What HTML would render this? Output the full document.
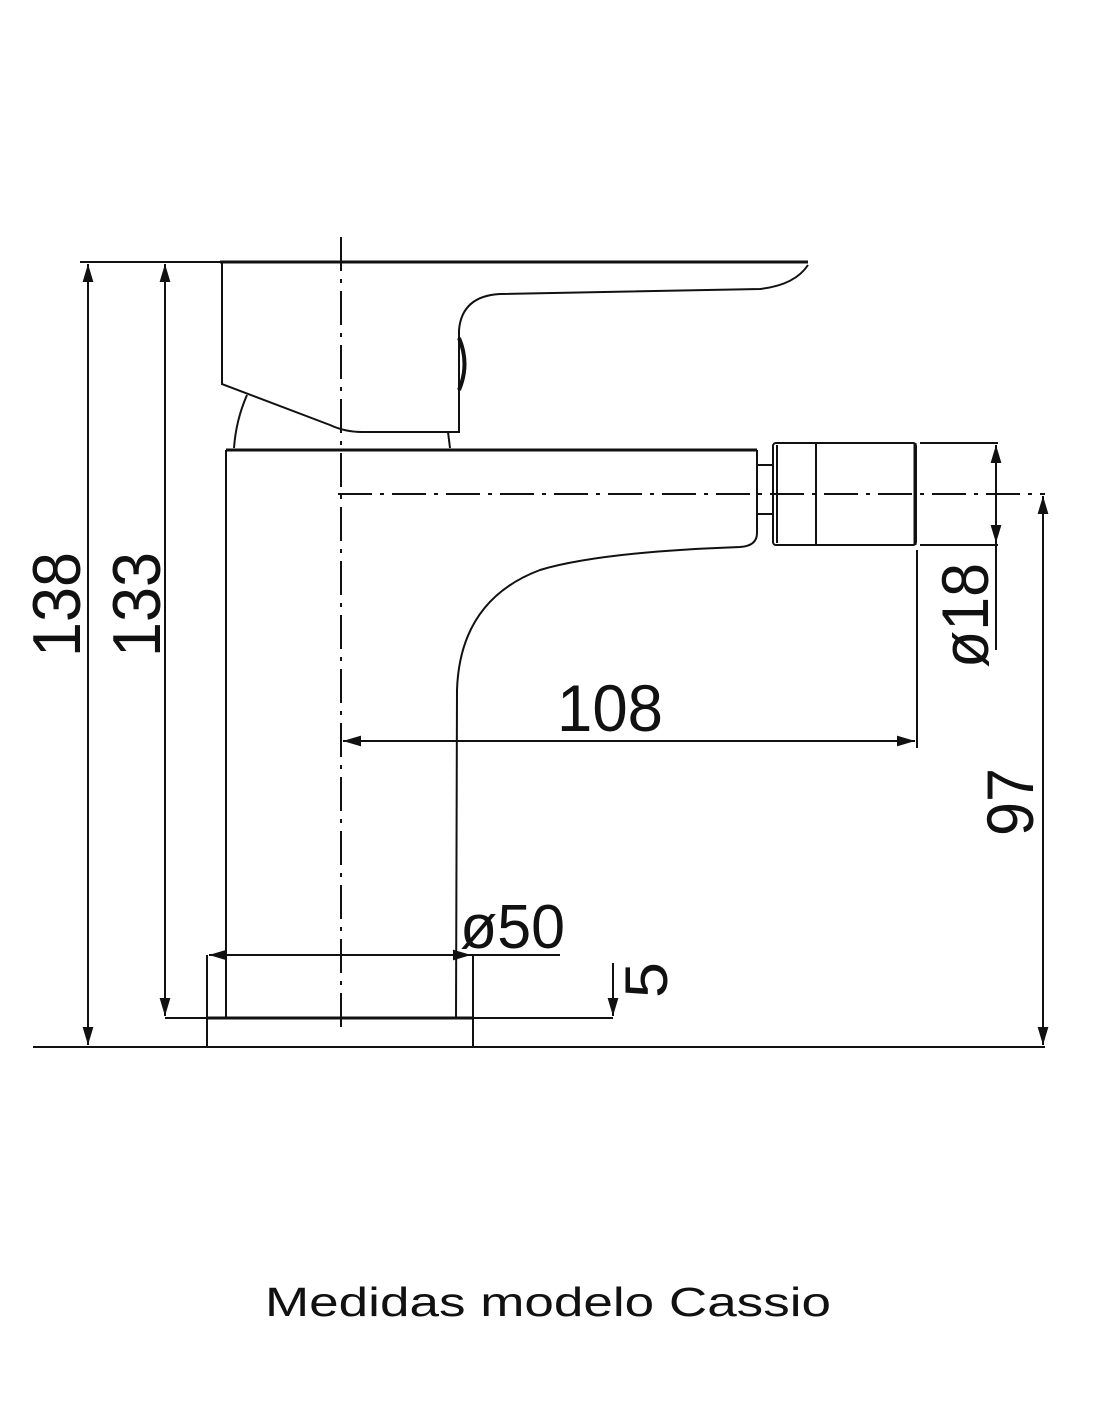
<!DOCTYPE html>
<html><head><meta charset="utf-8"><style>
html,body{margin:0;padding:0;background:#fff}
svg{display:block}
.t{font-family:"Liberation Sans",sans-serif;fill:#111}
</style></head><body>
<svg width="1100" height="1422" viewBox="0 0 1100 1422" xmlns="http://www.w3.org/2000/svg">
<defs>
<marker id="a" viewBox="0 0 10 10" refX="10" refY="5" markerWidth="18" markerHeight="18" markerUnits="userSpaceOnUse" orient="auto-start-reverse"><path d="M0,2 L10,5 L0,8 Z" fill="#111"/></marker>
</defs>
<g fill="none" stroke="#111" stroke-width="2">
<line x1="341" y1="237" x2="341" y2="1030" stroke-dasharray="34,8,4,8"/>
<line x1="338" y1="494" x2="1045" y2="494" stroke-dasharray="34,8,4,8"/>
<line x1="220" y1="262" x2="808" y2="262" stroke-width="3"/>
<path d="M222,262 L222,384 L330,425 Q345,432 362,432 L459,432 L459,330 Q462,296 500,294 L760,289 Q795,285 808,265"/>
<path d="M459,338 Q470,364 459,390" stroke-width="4"/>
<path d="M234,448 Q236,420 247,395"/>
<path d="M448,432 L450,448"/>
<line x1="226" y1="450" x2="757" y2="450" stroke-width="3"/>
<path d="M226,450 L226,1018"/>
<path d="M757,450 L757,533 Q757,546 740,547 Q600,552 540,570 Q460,600 457,690 L456,1018"/>
<path d="M757,465 L772,465 M757,514 L772,514"/>
<rect x="773" y="443" width="143" height="102" rx="3"/>
<line x1="777" y1="445" x2="777" y2="543"/>
<line x1="816" y1="443" x2="816" y2="545"/>
<line x1="915" y1="443" x2="915" y2="545" stroke-width="3"/>
<line x1="920" y1="443" x2="998" y2="443"/>
<line x1="920" y1="545" x2="998" y2="545"/>
<line x1="996" y1="445" x2="996" y2="650" />
<line x1="996" y1="494" x2="996" y2="445" marker-end="url(#a)"/>
<line x1="996" y1="494" x2="996" y2="543" marker-end="url(#a)"/>
<line x1="1043" y1="770" x2="1043" y2="496" marker-end="url(#a)"/>
<line x1="1043" y1="770" x2="1043" y2="1045" marker-end="url(#a)"/>
<line x1="917" y1="550" x2="917" y2="748"/>
<line x1="620" y1="741" x2="343" y2="741" marker-end="url(#a)"/>
<line x1="620" y1="741" x2="915" y2="741" marker-end="url(#a)"/>
<line x1="80" y1="262" x2="222" y2="262"/>
<line x1="88" y1="650" x2="88" y2="264" marker-end="url(#a)"/>
<line x1="88" y1="650" x2="88" y2="1045" marker-end="url(#a)"/>
<line x1="165" y1="650" x2="165" y2="264" marker-end="url(#a)"/>
<line x1="165" y1="650" x2="165" y2="1016" marker-end="url(#a)"/>
<line x1="165" y1="1018" x2="613" y2="1018"/>
<line x1="207" y1="1018" x2="473" y2="1018" stroke-width="3"/>
<line x1="207" y1="955" x2="207" y2="1047"/>
<line x1="473" y1="955" x2="473" y2="1047"/>
<line x1="33" y1="1047" x2="1045" y2="1047"/>
<line x1="613" y1="963" x2="613" y2="1016" marker-end="url(#a)"/>
<line x1="230" y1="955" x2="560" y2="955"/>
<line x1="300" y1="955" x2="209" y2="955" marker-end="url(#a)"/>
<line x1="300" y1="955" x2="471" y2="955" marker-end="url(#a)"/>
</g>
<g class="t">
<text transform="translate(80,657) rotate(-90)" font-size="68" textLength="105" lengthAdjust="spacingAndGlyphs">138</text>
<text transform="translate(160,657) rotate(-90)" font-size="68" textLength="105" lengthAdjust="spacingAndGlyphs">133</text>
<text transform="translate(988,668) rotate(-90)" font-size="66" textLength="105" lengthAdjust="spacingAndGlyphs">ø18</text>
<text transform="translate(1033,836) rotate(-90)" font-size="66" textLength="68" lengthAdjust="spacingAndGlyphs">97</text>
<text x="557" y="731" font-size="66" textLength="106" lengthAdjust="spacingAndGlyphs">108</text>
<text x="460" y="948" font-size="62" textLength="105" lengthAdjust="spacingAndGlyphs">ø50</text>
<text transform="translate(667,998) rotate(-90)" font-size="60" textLength="36" lengthAdjust="spacingAndGlyphs">5</text>
<text x="548" y="1316" font-size="41" text-anchor="middle" textLength="566" lengthAdjust="spacingAndGlyphs">Medidas modelo Cassio</text>
</g>
</svg>
</body></html>
